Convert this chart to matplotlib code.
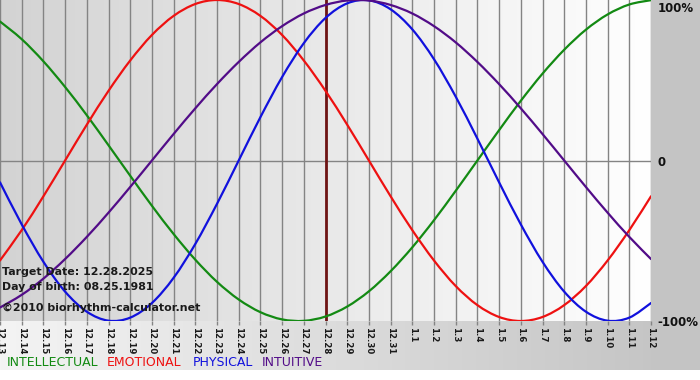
import numpy as np
import matplotlib
matplotlib.use("Agg")
import matplotlib.pyplot as plt
from matplotlib.colors import LinearSegmentedColormap
from matplotlib.path import Path
from matplotlib.patches import PathPatch

# ---- data ----
days = ["12.13", "12.14", "12.15", "12.16", "12.17", "12.18", "12.19", "12.20",
        "12.21", "12.22", "12.23", "12.24", "12.25", "12.26", "12.27", "12.28",
        "12.29", "12.30", "12.31", "1.1", "1.2", "1.3", "1.4", "1.5", "1.6",
        "1.7", "1.8", "1.9", "1.10", "1.11", "1.12"]
target_day = "12.28"

intellectual = [0.866, 0.756, 0.618, 0.458, 0.282, 0.095, -0.095, -0.282, -0.458,
                -0.618, -0.756, -0.866, -0.945, -0.990, -0.999, -0.972, -0.910,
                -0.815, -0.690, -0.541, -0.372, -0.189, 0.000, 0.189, 0.372,
                0.541, 0.690, 0.815, 0.910, 0.972, 0.999]
emotional = [-0.623, -0.434, -0.223, 0.000, 0.223, 0.434, 0.623, 0.782, 0.901,
             0.975, 1.000, 0.975, 0.901, 0.782, 0.623, 0.434, 0.223, 0.000,
             -0.223, -0.434, -0.623, -0.782, -0.901, -0.975, -1.000, -0.975,
             -0.901, -0.782, -0.623, -0.434, -0.223]
physical = [-0.136, -0.398, -0.631, -0.817, -0.942, -0.998, -0.979, -0.888, -0.731,
            -0.520, -0.270, 0.000, 0.270, 0.520, 0.731, 0.888, 0.979, 0.998,
            0.942, 0.817, 0.631, 0.398, 0.136, -0.136, -0.398, -0.631, -0.817,
            -0.942, -0.998, -0.979, -0.888]
intuitive = [-0.916, -0.837, -0.736, -0.614, -0.476, -0.325, -0.165, 0.000, 0.165,
             0.325, 0.476, 0.614, 0.736, 0.837, 0.916, 0.969, 0.997, 0.997,
             0.969, 0.916, 0.837, 0.736, 0.614, 0.476, 0.325, 0.165, 0.000,
             -0.165, -0.325, -0.476, -0.614]

series_names = ["INTELLECTUAL", "EMOTIONAL", "PHYSICAL", "INTUITIVE"]
series_colors = ["#138a13", "#ee1111", "#1111dd", "#520c88"]
y_labels = ["100%", "0", "-100%"]
info_lines = ["Target Date: 12.28.2025", "Day of birth: 08.25.1981",
              "©2010 biorhythm-calculator.net"]


def smooth_path(xs, ys):
    """Catmull-Rom curve through the data points, as cubic Bezier segments."""
    xs = np.asarray(xs, float)
    ys = np.asarray(ys, float)
    n = len(xs)
    verts = [(xs[0], ys[0])]
    codes = [Path.MOVETO]
    for i in range(n - 1):
        i0 = max(i - 1, 0)
        i3 = min(i + 2, n - 1)
        c1 = (xs[i] + (xs[i + 1] - xs[i0]) / 6, ys[i] + (ys[i + 1] - ys[i0]) / 6)
        c2 = (xs[i + 1] - (xs[i3] - xs[i]) / 6, ys[i + 1] - (ys[i3] - ys[i]) / 6)
        verts += [c1, c2, (xs[i + 1], ys[i + 1])]
        codes += [Path.CURVE4] * 3
    return Path(verts, codes)


W, H = 700, 380
fig = plt.figure(figsize=(W / 100, H / 100), dpi=100)

# background gradient (whole chart area)
bg = fig.add_axes([0, 0, 1, 1], zorder=-10)
bg.set_xlim(0, W)
bg.set_ylim(H, 0)
bg.axis("off")
cm_bg = LinearSegmentedColormap.from_list("bg", ["#f4f4f4", "#c2c2c2"])
grad = np.linspace(0, 1, 256).reshape(1, -1)
bg.imshow(grad, extent=(0, W, 370, 0), aspect="auto", cmap=cm_bg, zorder=0)
bg.fill_between([651, W], [0, 0], [370, 370], color="#c4c4c4", lw=0, zorder=1)

# plot axes
pl, pt, pw, ph = 0, 0, 651, 321
ax = fig.add_axes([pl / W, 1 - (pt + ph) / H, pw / W, ph / H])
x = np.arange(len(days))
ax.set_xlim(0, len(days) - 1)
ax.set_ylim(-1.0, 1.0)
cm_pl = LinearSegmentedColormap.from_list("pl", ["#d3d3d3", "#ffffff"])
ax.imshow(grad, extent=(0, len(days) - 1, -1, 1), aspect="auto", cmap=cm_pl, zorder=0)

for xi in x:
    ax.axvline(xi, color="#848484", lw=1.0, zorder=1)
ax.axhline(0, color="#848484", lw=1.0, zorder=1)
ti = days.index(target_day)
ax.axvline(ti, color="#6e1414", lw=2.0, zorder=2)

for vals, c in zip([intellectual, emotional, physical, intuitive], series_colors):
    ax.add_patch(PathPatch(smooth_path(x, vals), facecolor="none", edgecolor=c,
                           lw=1.6, zorder=3, capstyle="round"))

for s in ax.spines.values():
    s.set_visible(False)
ax.set_xticks(x)
ax.set_xticklabels(days, rotation=-90, fontsize=6.2, fontweight="bold",
                   color="#1a1a1a")
ax.tick_params(axis="x", direction="out", length=3, width=1, color="#848484", pad=1)
ax.set_yticks([])

# right-side labels
fig.text(658 / W, 1 - 8 / H, y_labels[0], fontsize=8.5, fontweight="bold",
         color="#111111", va="center", ha="left")
fig.text(657 / W, 1 - 162 / H, y_labels[1], fontsize=8.5, fontweight="bold",
         color="#111111", va="center", ha="left")
fig.text(657 / W, 1 - 322 / H, y_labels[2], fontsize=8.5, fontweight="bold",
         color="#111111", va="center", ha="left")

# info text
for txt, yy in zip(info_lines, [272, 287, 308]):
    fig.text(2 / W, 1 - yy / H, txt, fontsize=7.9, fontweight="bold",
             color="#1a1a1a", va="center", ha="left", zorder=10)

# legend
for name, c, xx in zip(series_names, series_colors, [7, 107, 193, 262]):
    fig.text(xx / W, 1 - 362 / H, name, fontsize=9, color=c, va="center", ha="left")

fig.savefig("out.png", dpi=100)
